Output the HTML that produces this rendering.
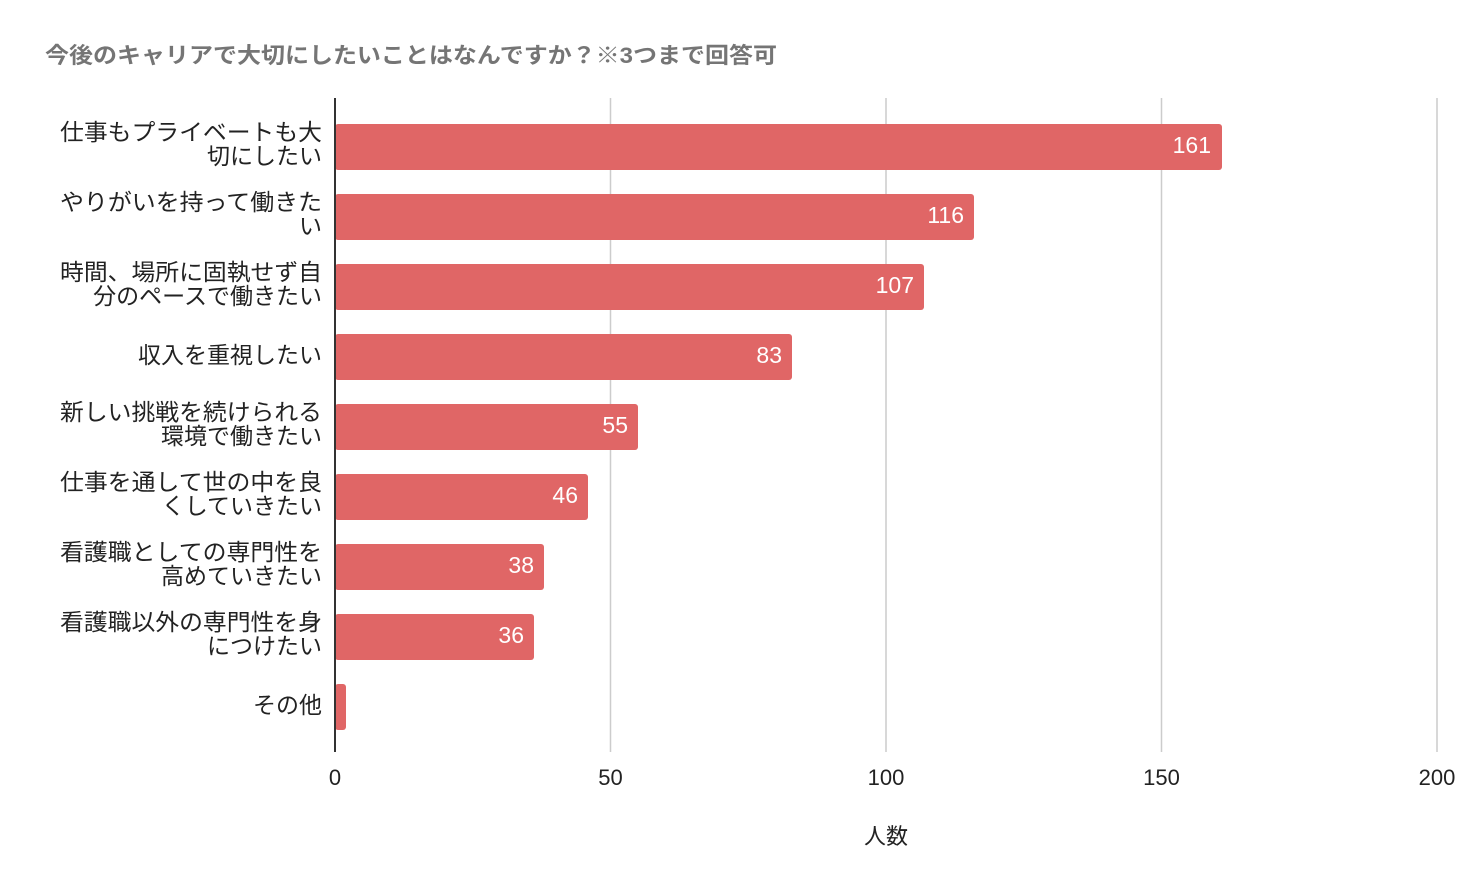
<!DOCTYPE html>
<html><head><meta charset="utf-8"><style>
body{margin:0;background:#fff;}
svg{display:block;font-family:"Liberation Sans","Noto Sans CJK JP",sans-serif;}
</style></head><body>
<svg width="1482" height="894" xmlns="http://www.w3.org/2000/svg">
<rect width="1482" height="894" fill="#fff"/>
<text x="45" y="63" font-size="22" font-weight="bold" fill="#757575" textLength="732" lengthAdjust="spacingAndGlyphs">今後のキャリアで大切にしたいことはなんですか？※3つまで回答可</text>
<g stroke="#cccccc" stroke-width="1.5">
<line x1="610.5" y1="98" x2="610.5" y2="752"/>
<line x1="886" y1="98" x2="886" y2="752"/>
<line x1="1161.5" y1="98" x2="1161.5" y2="752"/>
<line x1="1437" y1="98" x2="1437" y2="752"/>
</g>
<g fill="#e06666">
<rect x="335" y="124" width="887" height="46" rx="3"/>
<rect x="335" y="194" width="639" height="46" rx="3"/>
<rect x="335" y="264" width="589" height="46" rx="3"/>
<rect x="335" y="334" width="457" height="46" rx="3"/>
<rect x="335" y="404" width="303" height="46" rx="3"/>
<rect x="335" y="474" width="253" height="46" rx="3"/>
<rect x="335" y="544" width="209" height="46" rx="3"/>
<rect x="335" y="614" width="199" height="46" rx="3"/>
<rect x="335" y="684" width="11" height="46" rx="3"/>
</g>
<line x1="335" y1="98" x2="335" y2="752" stroke="#333" stroke-width="2"/>
<g fill="#fff" font-size="23" text-anchor="end">
<text x="1211" y="153">161</text>
<text x="964" y="223">116</text>
<text x="914" y="293">107</text>
<text x="782" y="363">83</text>
<text x="628" y="433">55</text>
<text x="578" y="503">46</text>
<text x="534" y="573">38</text>
<text x="524" y="643">36</text>
</g>
<g fill="#222" font-size="23" text-anchor="end">
<text x="322" y="140" textLength="262" lengthAdjust="spacingAndGlyphs">仕事もプライベートも大</text><text x="322" y="164">切にしたい</text>
<text x="322" y="210" textLength="262" lengthAdjust="spacingAndGlyphs">やりがいを持って働きた</text><text x="322" y="234">い</text>
<text x="322" y="280" textLength="262" lengthAdjust="spacingAndGlyphs">時間、場所に固執せず自</text><text x="322" y="304">分のペースで働きたい</text>
<text x="322" y="363">収入を重視したい</text>
<text x="322" y="420" textLength="262" lengthAdjust="spacingAndGlyphs">新しい挑戦を続けられる</text><text x="322" y="444">環境で働きたい</text>
<text x="322" y="490" textLength="262" lengthAdjust="spacingAndGlyphs">仕事を通して世の中を良</text><text x="322" y="514">くしていきたい</text>
<text x="322" y="560" textLength="262" lengthAdjust="spacingAndGlyphs">看護職としての専門性を</text><text x="322" y="584">高めていきたい</text>
<text x="322" y="630" textLength="262" lengthAdjust="spacingAndGlyphs">看護職以外の専門性を身</text><text x="322" y="654">につけたい</text>
<text x="322" y="713">その他</text>
</g>
<g fill="#222" font-size="22" text-anchor="middle">
<text x="335" y="785">0</text>
<text x="610.5" y="785">50</text>
<text x="886" y="785">100</text>
<text x="1161.5" y="785">150</text>
<text x="1437" y="785">200</text>
<text x="886" y="844">人数</text>
</g>
</svg>
</body></html>
